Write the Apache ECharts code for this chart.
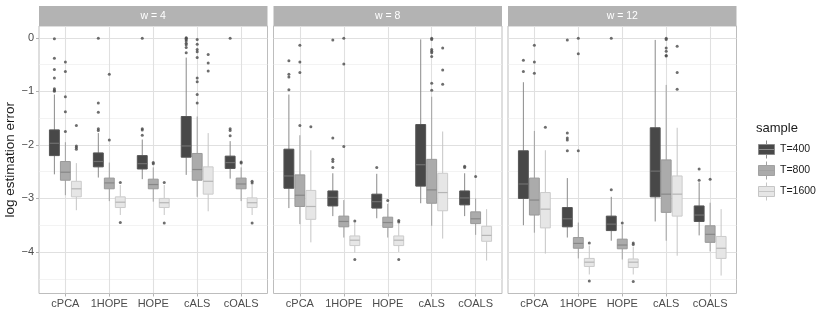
<!DOCTYPE html>
<html>
<head>
<meta charset="utf-8">
<script src="https://cdn.jsdelivr.net/npm/echarts@6/dist/echarts.min.js"></script>
<style>
html, body { margin: 0; padding: 0; background: #fff; }
#chart { width: 830px; height: 332px; }
</style>
</head>
<body>
<div id="chart"></div>
<script>
const categories = ['cPCA', '1HOPE', 'HOPE', 'cALS', 'cOALS']
const panels = ['w = 4', 'w = 8', 'w = 12']
const samples = ['T=400', 'T=800', 'T=1600']

// [lower whisker, Q1, median, Q3, upper whisker], one row per category
const w4T400 = [[-2.55, -2.20, -1.97, -1.72, -1.06], [-2.61, -2.41, -2.31, -2.15, -1.78], [-2.64, -2.45, -2.35, -2.20, -1.90], [-2.56, -2.23, -2.02, -1.47, -0.37], [-2.63, -2.44, -2.33, -2.21, -1.93]]
const w4T800 = [[-2.94, -2.66, -2.51, -2.31, -1.95], [-3.05, -2.82, -2.71, -2.62, -2.33], [-3.06, -2.82, -2.74, -2.64, -2.42], [-2.97, -2.66, -2.46, -2.16, -1.47], [-3.05, -2.82, -2.73, -2.62, -2.42]]
const w4T1600 = [[-3.22, -2.97, -2.82, -2.68, -2.34], [-3.31, -3.17, -3.07, -2.97, -2.75], [-3.31, -3.17, -3.08, -3.00, -2.75], [-3.24, -2.92, -2.68, -2.41, -1.78], [-3.31, -3.17, -3.08, -2.99, -2.75]]
const w8T400 = [[-3.18, -2.81, -2.58, -2.08, -1.06], [-3.33, -3.14, -2.98, -2.86, -2.53], [-3.37, -3.18, -3.06, -2.92, -2.54], [-3.09, -2.77, -2.37, -1.62, -0.03], [-3.33, -3.12, -2.99, -2.86, -2.53]]
const w8T800 = [[-3.48, -3.15, -2.94, -2.56, -1.82], [-3.73, -3.53, -3.43, -3.33, -3.03], [-3.73, -3.54, -3.45, -3.35, -3.10], [-3.51, -3.09, -2.84, -2.27, -1.10], [-3.68, -3.47, -3.38, -3.25, -3.00]]
const w8T1600 = [[-3.82, -3.39, -3.15, -2.85, -2.10], [-4.01, -3.88, -3.78, -3.70, -3.45], [-4.00, -3.88, -3.78, -3.70, -3.47], [-3.75, -3.23, -2.89, -2.53, -1.75], [-4.16, -3.80, -3.69, -3.52, -3.20]]
const w12T400 = [[-3.50, -3.00, -2.73, -2.11, -0.83], [-3.73, -3.53, -3.38, -3.17, -2.62], [-3.79, -3.60, -3.48, -3.33, -2.97], [-3.43, -2.97, -2.49, -1.68, -0.04], [-3.69, -3.43, -3.31, -3.14, -2.70]]
const w12T800 = [[-3.64, -3.31, -3.03, -2.62, -1.74], [-4.12, -3.93, -3.84, -3.73, -3.45], [-4.14, -3.94, -3.87, -3.76, -3.50], [-3.79, -3.26, -2.92, -2.28, -0.88], [-3.99, -3.82, -3.67, -3.51, -3.08]]
const w12T1600 = [[-4.03, -3.55, -3.20, -2.89, -2.10], [-4.42, -4.27, -4.19, -4.12, -3.88], [-4.42, -4.29, -4.19, -4.13, -3.90], [-4.07, -3.33, -2.92, -2.58, -1.68], [-4.44, -4.12, -3.93, -3.71, -3.20]]

// outliers: [category index, value]
const w4T400Out = [[0, -0.02], [0, -0.38], [0, -0.59], [0, -0.75], [0, -0.95], [0, -0.98], [0, -1.0], [1, -0.01], [1, -1.22], [1, -1.39], [1, -1.70], [1, -1.73], [2, -0.01], [2, -1.70], [2, -1.72], [2, -1.82], [3, 0], [3, -0.01], [3, -0.03], [3, -0.06], [3, -0.10], [3, -0.13], [3, -0.18], [3, -0.28], [4, -0.01], [4, -1.70], [4, -1.73], [4, -1.83]]
const w4T800Out = [[0, -0.45], [0, -0.63], [0, -1.10], [0, -1.38], [0, -1.75], [1, -0.68], [1, -1.91], [2, -2.33], [2, -2.35], [3, -0.03], [3, -0.12], [3, -0.22], [3, -0.26], [3, -0.37], [3, -0.75], [3, -0.82], [3, -1.06], [3, -1.22], [4, -2.32], [4, -2.34]]
const w4T1600Out = [[0, -1.64], [0, -2.02], [0, -2.05], [0, -2.08], [1, -2.70], [1, -3.45], [2, -2.70], [2, -3.46], [3, -0.31], [3, -0.47], [3, -0.62], [4, -2.68], [4, -2.71], [4, -3.46]]
const w8T400Out = [[0, -0.43], [0, -0.68], [0, -0.73], [0, -0.97], [1, -0.04], [1, -1.87], [1, -2.27], [1, -2.31], [1, -2.42], [2, -2.42], [4, -2.40], [4, -2.42]]
const w8T800Out = [[0, -0.14], [0, -0.45], [0, -0.65], [0, -1.64], [1, -0.01], [1, -0.49], [1, -2.03], [2, -3.04], [3, -0.01], [3, -0.03], [3, -0.22], [3, -0.25], [3, -0.28], [3, -0.35], [3, -0.85], [3, -0.98], [4, -2.59]]
const w8T1600Out = [[0, -1.66], [1, -3.42], [1, -4.14], [2, -3.41], [2, -3.44], [2, -4.14], [3, -0.19], [3, -0.60], [3, -0.87]]
const w12T400Out = [[0, -0.42], [0, -0.63], [1, -0.04], [1, -1.78], [1, -1.87], [1, -1.91], [1, -2.11], [2, -0.01], [2, -2.84], [4, -2.45], [4, -2.66]]
const w12T800Out = [[0, -0.14], [0, -0.45], [0, -0.66], [1, -0.01], [1, -0.30], [1, -2.11], [2, -3.46], [3, -0.01], [3, -0.03], [3, -0.19], [3, -0.25], [3, -0.33], [3, -0.34], [4, -2.64]]
const w12T1600Out = [[0, -1.67], [1, -3.83], [1, -4.54], [2, -3.83], [2, -3.86], [2, -4.55], [3, -0.16], [3, -0.65], [3, -0.96]]

const boxData = [[w4T400, w4T800, w4T1600], [w8T400, w8T800, w8T1600], [w12T400, w12T800, w12T1600]]
const outData = [[w4T400Out, w4T800Out, w4T1600Out], [w8T400Out, w8T800Out, w8T1600Out], [w12T400Out, w12T800Out, w12T1600Out]]

const FONT = '"Liberation Sans", Arial, sans-serif'
const Y_MIN = -4.775
const Y_MAX = 0.22
const panelLeft = [39, 273.5, 508]
const panelW = 228.5
const panelTop = 26
const panelH = 267.5
const stripH = 20
const unit = panelW / 5.2      // ggplot discrete axis: 0.6 expansion each side
const dodge = [-0.25, 0, 0.25]
const boxHalf = 0.1125
const styles = [
  { fill: '#484848', stroke: '#555555', median: '#707070', whisker: '#8a8a8a' },
  { fill: '#ababab', stroke: '#999999', median: '#878787', whisker: '#a2a2a2' },
  { fill: '#e6e6e6', stroke: '#cbcbcb', median: '#b5b5b5', whisker: '#c6c6c6' }
]
const gridMajor = { color: '#e0e0e0', width: 1.1 }
const gridMinor = { color: '#eeeeee', width: 0.7 }

function minus (v) {
  return String(v).replace('-', '\u2212')
}

function boxRenderer (s) {
  return function (params, api) {
    const band = api.size([1, 0])[0]
    const x = api.value(0)
    const pts = [1, 2, 3, 4, 5].map(d => api.coord([x, api.value(d)]))
    const cx = pts[0][0] + dodge[s] * band
    const hw = boxHalf * band
    const st = styles[s]
    return {
      type: 'group',
      children: [
        { type: 'line', shape: { x1: cx, y1: pts[0][1], x2: cx, y2: pts[1][1] }, style: { stroke: st.whisker, lineWidth: 1 } },
        { type: 'line', shape: { x1: cx, y1: pts[3][1], x2: cx, y2: pts[4][1] }, style: { stroke: st.whisker, lineWidth: 1 } },
        { type: 'rect', shape: { x: cx - hw, y: pts[3][1], width: hw * 2, height: pts[1][1] - pts[3][1] }, style: { fill: st.fill, stroke: st.stroke, lineWidth: 1 } },
        { type: 'line', shape: { x1: cx - hw, y1: pts[2][1], x2: cx + hw, y2: pts[2][1] }, style: { stroke: st.median, lineWidth: 1.2 } }
      ]
    }
  }
}

const tenths = Array.from({ length: 53 }, (_, i) => i)
const grid = []
const xAxis = []
const yAxis = []
const series = []
const graphic = []

panels.forEach((title, p) => {
  // frame grid: border and grid lines over the whole panel
  grid.push({ left: panelLeft[p], top: panelTop, width: panelW, height: panelH, show: true, borderColor: '#bdbdbd', borderWidth: 1, backgroundColor: '#fff', outerBoundsMode: 'none', containLabel: false })
  xAxis.push({
    gridIndex: p * 2, type: 'category', data: tenths, boundaryGap: false,
    axisLine: { show: false }, axisTick: { show: false }, axisLabel: { show: false },
    splitLine: { show: true, interval: (i) => i % 10 === 6, lineStyle: gridMajor }
  })
  yAxis.push({
    gridIndex: p * 2, type: 'value', min: Y_MIN, max: Y_MAX,
    axisLine: { show: false },
    axisTick: { show: p === 0, length: 3, lineStyle: { color: '#b3b3b3' } },
    axisLabel: { show: p === 0, formatter: minus, color: '#4d4d4d', fontSize: 11, fontFamily: FONT, margin: 5, showMinLabel: false, showMaxLabel: false },
    splitLine: { show: true, lineStyle: gridMajor, showMinLine: false, showMaxLine: false },
    minorTick: { show: false, splitNumber: 2 },
    minorSplitLine: { show: true, lineStyle: gridMinor },
    name: p === 0 ? 'log estimation error' : '',
    nameLocation: 'middle', nameGap: 18,
    nameTextStyle: { fontSize: 13.5, color: '#1a1a1a', fontFamily: FONT }
  })
  // data grid: five category bands of one unit each
  grid.push({ left: panelLeft[p] + 0.1 * unit, top: panelTop, width: 5 * unit, height: panelH, outerBoundsMode: 'none', containLabel: false })
  xAxis.push({
    gridIndex: p * 2 + 1, type: 'category', data: categories, boundaryGap: true,
    axisLine: { show: false, onZero: false },
    axisTick: { show: true, alignWithLabel: true, length: 3, lineStyle: { color: '#b3b3b3' } },
    axisLabel: { color: '#4d4d4d', fontSize: 11, fontFamily: FONT, margin: 5, interval: 0 },
    splitLine: { show: false }
  })
  yAxis.push({ gridIndex: p * 2 + 1, type: 'value', min: Y_MIN, max: Y_MAX, show: false, splitLine: { show: false } })

  samples.forEach((name, s) => {
    series.push({
      name: name, type: 'custom', xAxisIndex: p * 2 + 1, yAxisIndex: p * 2 + 1,
      renderItem: boxRenderer(s),
      encode: { x: 0, y: [1, 2, 3, 4, 5] },
      data: boxData[p][s].map((b, i) => [i].concat(b)),
      z: 3
    })
    series.push({
      type: 'scatter', xAxisIndex: p * 2 + 1, yAxisIndex: p * 2 + 1,
      data: outData[p][s], symbolSize: 3, symbolOffset: [dodge[s] * unit, 0],
      itemStyle: { color: '#4a4a4a' }, silent: true, z: 4
    })
  })

  // facet strip
  graphic.push({ type: 'rect', left: panelLeft[p], top: panelTop - stripH, shape: { width: panelW, height: stripH }, style: { fill: '#b3b3b3' } })
  graphic.push({
    type: 'text', x: panelLeft[p] + panelW / 2, y: panelTop - stripH / 2,
    style: { text: title, fill: '#fff', font: '10.5px ' + FONT, align: 'center', verticalAlign: 'middle' }
  })
})

graphic.push({ type: 'text', x: 756, y: 128, style: { text: 'sample', fill: '#1a1a1a', font: '13px ' + FONT, align: 'left', verticalAlign: 'middle' } })

const legendIcon = 'path://M8,0V4M0,4H16V14H0ZM0,9H16M8,14V18'

const option = {
  animation: false,
  backgroundColor: '#fff',
  grid: grid,
  xAxis: xAxis,
  yAxis: yAxis,
  graphic: graphic,
  legend: {
    orient: 'vertical', left: 758, top: 140, padding: 0,
    itemWidth: 17, itemHeight: 18, itemGap: 2,
    selectedMode: false,
    textStyle: { fontSize: 10.5, color: '#1a1a1a', fontFamily: FONT },
    data: samples.map((name, s) => ({
      name: name, icon: legendIcon,
      itemStyle: { color: styles[s].fill, borderColor: styles[s].whisker, borderWidth: 1 }
    }))
  },
  series: series
}

const chart = echarts.init(document.getElementById('chart'))
chart.setOption(option)
</script>
</body>
</html>
